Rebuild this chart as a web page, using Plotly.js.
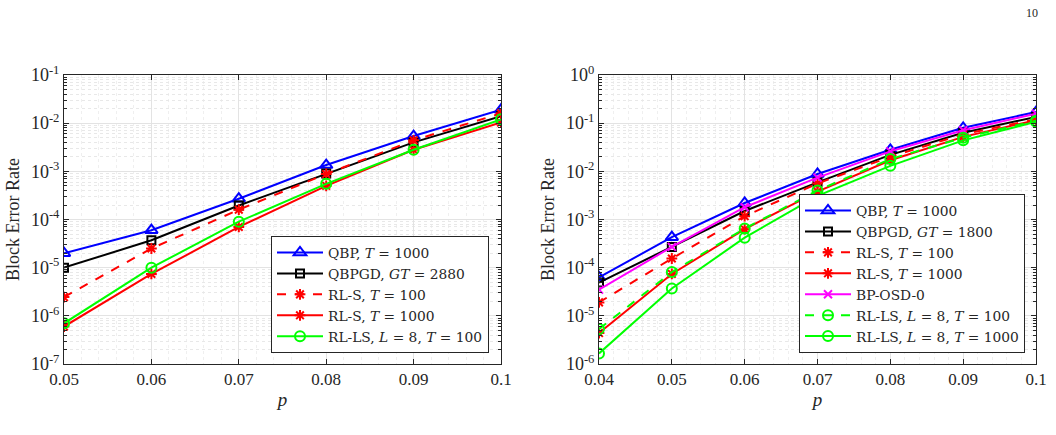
<!DOCTYPE html>
<html><head><meta charset="utf-8">
<script src="https://cdn.plot.ly/plotly-3.0.1.min.js"></script>
<style>html,body{margin:0;padding:0;background:#fff}#plot{width:1056px;height:435px}</style>
</head><body><div id="plot"></div>
<script>
// Left panel
const pLeft = [0.05, 0.06, 0.07, 0.08, 0.09, 0.1];
const L_QBP = [2.0e-5, 6.0e-5, 2.7e-4, 1.35e-3, 5.4e-3, 1.9e-2];
const L_QBPGD = [1.0e-5, 3.7e-5, 1.95e-4, 9.0e-4, 4.0e-3, 1.4e-2];
const L_RLS100 = [2.45e-6, 2.5e-5, 1.6e-4, 8.8e-4, 4.4e-3, 1.6e-2];
const L_RLS1000 = [6.0e-7, 7.4e-6, 7.0e-5, 5.0e-4, 2.8e-3, 1.03e-2];
const L_RLLS100 = [7.0e-7, 1.0e-5, 9.0e-5, 5.5e-4, 2.8e-3, 1.2e-2];
// Right panel
const pRight = [0.04, 0.05, 0.06, 0.07, 0.08, 0.09, 0.1];
const R_QBP = [6.3e-5, 4.3e-4, 2.2e-3, 8.8e-3, 2.8e-2, 8.0e-2, 0.17];
const R_QBPGD = [4.9e-5, 2.7e-4, 1.5e-3, 5.9e-3, 2.2e-2, 6.3e-2, 0.135];
const R_RLS100 = [1.9e-5, 1.55e-4, 1.17e-3, 5.6e-3, 2.0e-2, 5.9e-2, 0.12];
const R_RLS1000 = [4.4e-6, 7.4e-5, 6.3e-4, 3.8e-3, 1.7e-2, 5.2e-2, 0.115];
const R_OSD = [3.5e-5, 2.7e-4, 1.8e-3, 7.4e-3, 2.6e-2, 7.1e-2, 0.158];
const R_RLLS100 = [5.3e-6, 8.1e-5, 6.5e-4, 4.0e-3, 1.8e-2, 5.0e-2, 0.112];
const R_RLLS1000 = [1.66e-6, 3.7e-5, 4.2e-4, 3.1e-3, 1.3e-2, 4.4e-2, 0.107];

// Tick labels
const leftYTickVals = [1e-7, 1e-6, 1e-5, 1e-4, 1e-3, 1e-2, 1e-1];
const leftYTickText = ['10<sup>-7</sup>', '10<sup>-6</sup>', '10<sup>-5</sup>', '10<sup>-4</sup>', '10<sup>-3</sup>', '10<sup>-2</sup>', '10<sup>-1</sup>'];
const rightYTickVals = [1e-6, 1e-5, 1e-4, 1e-3, 1e-2, 1e-1, 1];
const rightYTickText = ['10<sup>-6</sup>', '10<sup>-5</sup>', '10<sup>-4</sup>', '10<sup>-3</sup>', '10<sup>-2</sup>', '10<sup>-1</sup>', '10<sup>0</sup>'];

const leftNames = ['QBP, <i>T</i> = 1000', 'QBPGD, <i>GT</i> = 2880', 'RL-S, <i>T</i> = 100', 'RL-S, <i>T</i> = 1000', 'RL-LS, <i>L</i> = 8, <i>T</i> = 100'];
const rightNames = ['QBP, <i>T</i> = 1000', 'QBPGD, <i>GT</i> = 1800', 'RL-S, <i>T</i> = 100', 'RL-S, <i>T</i> = 1000', 'BP-OSD-0', 'RL-LS, <i>L</i> = 8, <i>T</i> = 100', 'RL-LS, <i>L</i> = 8, <i>T</i> = 1000'];

const BLUE = '#0000ff', BLACK = '#000000', RED = '#ff0000', GREEN = '#00ff00', MAG = '#ff00ff';
const styles = {
  qbp: {color: BLUE, dash: 'solid', symbol: 'triangle-up-open', size: 11},
  qbpgd: {color: BLACK, dash: 'solid', symbol: 'square-open', size: 8},
  rls100: {color: RED, dash: 'dash', symbol: 'asterisk-open', size: 9},
  rls1000: {color: RED, dash: 'solid', symbol: 'asterisk-open', size: 9},
  osd: {color: MAG, dash: 'solid', symbol: 'x-thin-open', size: 8},
  rlls100: {color: GREEN, dash: 'dash', symbol: 'circle-open', size: 10},
  rlls1000: {color: GREEN, dash: 'solid', symbol: 'circle-open', size: 10}
};
function tr(x, y, name, st, xa, ya, leg) {
  return {x: x, y: y, name: name, type: 'scatter', mode: 'lines+markers',
    xaxis: xa, yaxis: ya, legend: leg,
    line: {color: st.color, dash: st.dash, width: 2},
    marker: {symbol: st.symbol, size: st.size, color: st.color, line: {color: st.color, width: 2}}};
}
const data = [
  tr(pLeft, L_QBP, leftNames[0], styles.qbp, 'x', 'y', 'legend'),
  tr(pLeft, L_QBPGD, leftNames[1], styles.qbpgd, 'x', 'y', 'legend'),
  tr(pLeft, L_RLS100, leftNames[2], styles.rls100, 'x', 'y', 'legend'),
  tr(pLeft, L_RLS1000, leftNames[3], styles.rls1000, 'x', 'y', 'legend'),
  tr(pLeft, L_RLLS100, leftNames[4], styles.rlls1000, 'x', 'y', 'legend'),
  tr(pRight, R_QBP, rightNames[0], styles.qbp, 'x2', 'y2', 'legend2'),
  tr(pRight, R_QBPGD, rightNames[1], styles.qbpgd, 'x2', 'y2', 'legend2'),
  tr(pRight, R_RLS100, rightNames[2], styles.rls100, 'x2', 'y2', 'legend2'),
  tr(pRight, R_RLS1000, rightNames[3], styles.rls1000, 'x2', 'y2', 'legend2'),
  tr(pRight, R_OSD, rightNames[4], styles.osd, 'x2', 'y2', 'legend2'),
  tr(pRight, R_RLLS100, rightNames[5], styles.rlls100, 'x2', 'y2', 'legend2'),
  tr(pRight, R_RLLS1000, rightNames[6], styles.rlls1000, 'x2', 'y2', 'legend2')
];
const FONT = 'Liberation Serif';
const LEGFONT = 'DejaVu Serif';
function xax(domain, range, anchor) {
  return {domain: domain, range: range, anchor: anchor, dtick: 0.01, tickformat: '.2~f',
    showline: true, linecolor: '#262626', linewidth: 1, mirror: 'ticks', ticks: 'inside', ticklen: 5, tickcolor: '#262626',
    showgrid: true, gridcolor: '#e3e3e3', gridwidth: 1, zeroline: false,
    minor: {dtick: 0.002, showgrid: true, gridcolor: '#efefef', griddash: 'dot', ticks: ''},
    tickfont: {family: FONT, size: 17, color: '#262626'},
    title: {text: '<i>p</i>', font: {family: FONT, size: 19, color: '#262626'}, standoff: 4}};
}
function yax(domain, range, anchor, tv, tt) {
  return {domain: domain, type: 'log', range: range, anchor: anchor, tickmode: 'array', tickvals: tv, ticktext: tt,
    showline: true, linecolor: '#262626', linewidth: 1, mirror: 'ticks', ticks: 'inside', ticklen: 5, tickcolor: '#262626',
    showgrid: true, gridcolor: '#e3e3e3', gridwidth: 1, zeroline: false,
    minor: {dtick: 'D1', showgrid: true, gridcolor: '#e8e8e8', griddash: 'dot', ticks: 'inside', ticklen: 3, tickcolor: '#262626'},
    tickfont: {family: FONT, size: 18, color: '#262626'},
    title: {text: 'Block Error Rate', font: {family: FONT, size: 18, color: '#262626'}, standoff: 6}};
}
const yDom = [1 - 364 / 435, 1 - 75 / 435];
const legendStyle = {bgcolor: '#ffffff', bordercolor: '#262626', borderwidth: 1,
  font: {family: LEGFONT, size: 13.8, color: '#262626'}, xanchor: 'right', yanchor: 'bottom', itemwidth: 46};
const layout = {
  width: 1056, height: 435,
  margin: {l: 0, r: 0, t: 0, b: 0},
  font: {family: FONT},
  paper_bgcolor: '#ffffff', plot_bgcolor: '#ffffff',
  showlegend: true,
  xaxis: xax([64 / 1056, 501 / 1056], [0.05, 0.1], 'y'),
  yaxis: yax(yDom, [-7, -1], 'x', leftYTickVals, leftYTickText),
  xaxis2: xax([599 / 1056, 1036 / 1056], [0.04, 0.1], 'y2'),
  yaxis2: yax(yDom, [-6, 0], 'x2', rightYTickVals, rightYTickText),
  legend: Object.assign({x: 489 / 1056, y: 1 - 353 / 435}, legendStyle),
  legend2: Object.assign({x: 1025 / 1056, y: 1 - 353 / 435}, legendStyle),
  annotations: [{text: '10', xref: 'paper', yref: 'paper', x: 1040 / 1056, y: 1 - 13 / 435,
    xanchor: 'right', yanchor: 'middle', showarrow: false, font: {family: FONT, size: 12, color: '#262626'}}]
};
Plotly.newPlot('plot', data, layout, {displayModeBar: false, staticPlot: true});
</script></body></html>
